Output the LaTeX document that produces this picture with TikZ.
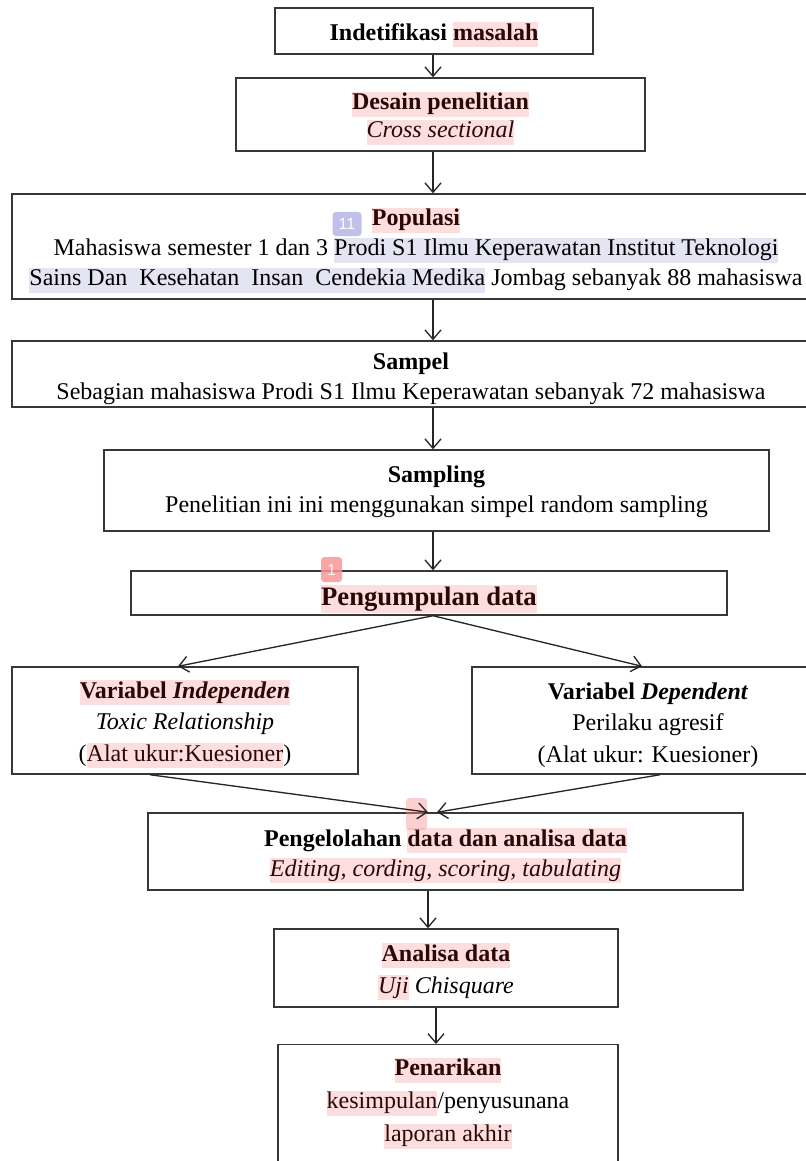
\documentclass[tikz,border=0pt]{standalone}
\usepackage{fontspec}
\setmainfont{Liberation Serif}
\newfontfamily\badgefont{Liberation Sans}
\usetikzlibrary{arrows.meta}
\definecolor{hlpink}{RGB}{252,222,222}
\definecolor{hlblue}{RGB}{228,228,243}
\definecolor{bdgblue}{RGB}{192,192,234}
\definecolor{bdgred}{RGB}{248,150,150}
\definecolor{boxc}{RGB}{55,55,55}
\definecolor{hltext}{RGB}{45,6,6}
\newcommand\hlp[1]{{\setlength{\fboxsep}{0pt}\colorbox{hlpink}{\rule[-0.3em]{0pt}{1.04em}\color{hltext}#1}}}
\newcommand\hlb[1]{{\setlength{\fboxsep}{0pt}\colorbox{hlblue}{\rule[-0.3em]{0pt}{1.04em}#1}}}
\newcommand\up[1]{\rule{0pt}{#1}}
\tikzset{
  bx/.style 2 args={draw=boxc, line width=1.1pt, minimum width=#1*0.75pt, minimum height=#2*0.75pt, inner sep=0pt, align=center},
  fs/.style={font=\fontsize{18}{#1}\selectfont},
  arr/.style={-{Straight Barb[length=7pt,width=12pt,line width=1pt]}, line width=1pt, draw=black!85},
  badge/.style={fill=#1, rounded corners=2.5pt, text=white, font=\badgefont\fontsize{12}{14}\selectfont, inner sep=0pt}
}
\begin{document}
\begin{tikzpicture}[x=0.75pt,y=-0.75pt]
\useasboundingbox (0,0) rectangle (806,1161);
\clip (0,0) rectangle (806,1161);
\coordinate (ax) at (433,0);
% boxes
\node[bx={318}{46}, font=\fontsize{18}{21}\selectfont\bfseries] (b1) at (434,31) {\up{19pt}Indetifikasi \hlp{masalah}};
\node[bx={409}{73}, fs=21pt] (b2) at (440.5,114.5) {\up{19pt}\hlp{\bfseries Desain penelitian}\\\hlp{\itshape Cross sectional}};
\node[bx={808}{105}, fs=22.5pt] (b3) at (416,246.5) {\up{19pt}\hlp{\bfseries Populasi}\\Mahasiswa semester 1 dan 3 \hlb{Prodi S1 Ilmu Keperawatan Institut Teknologi}\\\hlb{Sains Dan\ \ Kesehatan\ \ Insan\ \ Cendekia Medika} Jombag sebanyak 88 mahasiswa};
\node[bx={798}{66}, fs=22.5pt] (b4) at (411,374) {\up{19pt}\textbf{Sampel}\\Sebagian mahasiswa Prodi S1 Ilmu Keperawatan sebanyak 72 mahasiswa};
\node[bx={665}{81}, fs=22.5pt] (b5) at (436.5,490.5) {\up{14pt}\textbf{Sampling}\\Penelitian ini ini menggunakan simpel random sampling};
\node[bx={596}{44}, font=\fontsize{20}{24}\selectfont\bfseries] (b6) at (429,593) {\up{24pt}\hlp{Pengumpulan data}};
\node[bx={346}{107}, fs=23.6pt] (v1) at (185,720.5) {\up{19pt}\hlp{\bfseries Variabel \itshape Independen}\\\textit{Toxic Relationship}\\(\hlp{Alat ukur:Kuesioner})};
\node[bx={352}{107}, fs=23.6pt] (v2) at (648,720.5) {\up{19pt}\textbf{Variabel \textit{Dependent}}\\Perilaku agresif\\(Alat ukur: Kuesioner)};
\node[bx={595}{77}, fs=22.5pt] (b8) at (445.5,851.5) {\up{20pt}\textbf{Pengelolahan \hlp{data dan analisa data}}\\\hlp{\itshape Editing, cording, scoring, tabulating}};
\node[bx={344}{78}, fs=24pt] (b9) at (446,968) {\up{19pt}\hlp{\bfseries Analisa data}\\\hlp{\itshape Uji} \textit{Chisquare}};
\node[bx={340}{140}, anchor=north] (pnbox) at (448,1044) {};
\node[fs=24.75pt, align=center, inner sep=0pt] (pn) at (448,1101) {\up{17pt}\hlp{\bfseries Penarikan}\\\hlp{kesimpulan}/penyusunana\\\hlp{laporan akhir}};
% overlay marker
\node[fill=bdgred, opacity=0.45, rounded corners=2.5pt, minimum width=21*0.75pt, minimum height=32*0.75pt, inner sep=0pt] (mk) at (416.5,814) {};
% badges
\node[badge=bdgblue, minimum width=29*0.75pt, minimum height=24*0.75pt] (k11) at (347,224) {11};
\node[badge=bdgred, fill opacity=0.85, minimum width=21*0.75pt, minimum height=25*0.75pt] (k1) at (331.5,569.5) {1};
% connectors
\coordinate (lx) at (178,0);
\coordinate (rx) at (642,0);
\coordinate (c1) at (150,0);
\coordinate (c2) at (660,0);
\coordinate (c3) at (428,0);
\coordinate (c4) at (437,0);
\coordinate (c5) at (436,0);
\draw[arr] (b1.south -| ax) -- (b2.north -| ax);
\draw[arr] (b2.south -| ax) -- (b3.north -| ax);
\draw[arr] (b3.south -| ax) -- (b4.north -| ax);
\draw[arr] (b4.south -| ax) -- (b5.north -| ax);
\draw[arr] (b5.south -| ax) -- (b6.north -| ax);
\draw[arr] (b6.south -| ax) -- (v1.north -| lx);
\draw[arr] (b6.south -| ax) -- (v2.north -| rx);
\draw[arr] (v1.south -| c1) -- (b8.north -| c3);
\draw[arr] (v2.south -| c2) -- (b8.north -| c4);
\draw[arr] (b8.south -| c3) -- (b9.north -| c3);
\draw[arr] (b9.south -| c5) -- (pnbox.north -| c5);
\end{tikzpicture}
\end{document}
